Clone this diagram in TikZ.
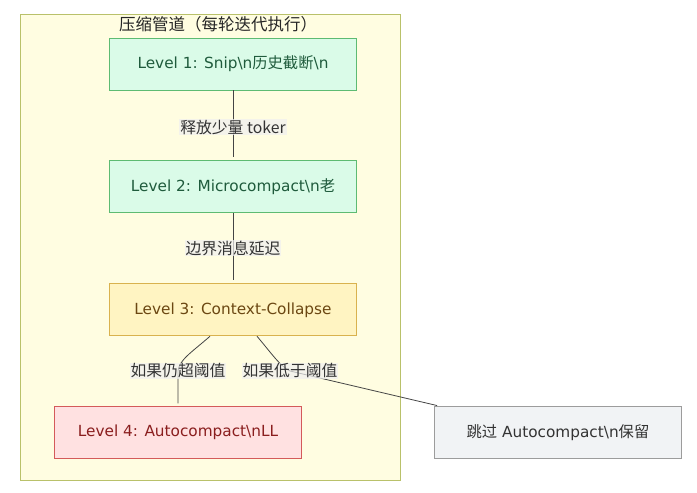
\documentclass[tikz,border=0pt]{standalone}
\usepackage{fontspec}
\setmainfont{DejaVu Sans}
\newfontfamily\cjk{Noto Sans CJK SC}
\usetikzlibrary{positioning}

\definecolor{groupfill}{HTML}{FFFDE1}
\definecolor{groupline}{HTML}{B9C16A}
\definecolor{greenfill}{HTML}{DAFBE8}
\definecolor{greenline}{HTML}{5DBB72}
\definecolor{greentext}{HTML}{1F5B3C}
\definecolor{yellowfill}{HTML}{FFF4C2}
\definecolor{yellowline}{HTML}{D9B24E}
\definecolor{yellowtext}{HTML}{6B4712}
\definecolor{redfill}{HTML}{FFE1E1}
\definecolor{redline}{HTML}{D45A5A}
\definecolor{redtext}{HTML}{8A1E1E}
\definecolor{grayfill}{HTML}{F1F3F5}
\definecolor{grayline}{HTML}{9C9C9C}
\definecolor{graytext}{HTML}{333333}
\definecolor{edgeline}{HTML}{444444}

\begin{document}
\begin{tikzpicture}[
    x=1pt, y=-1pt,
    node distance=70pt and 0pt,
    level/.style={draw, line width=0.9pt, minimum width=247pt, minimum height=52pt,
      font=\fontsize{15.3}{18}\selectfont},
    green/.style={level, fill=greenfill, draw=greenline, text=greentext},
    yellow/.style={level, fill=yellowfill, draw=yellowline, text=yellowtext},
    red/.style={level, fill=redfill, draw=redline, text=redtext},
    gray/.style={level, fill=grayfill, draw=grayline, text=graytext},
    edge/.style={draw=edgeline, line width=0.8pt, shorten >=3pt},
    lbl/.style={fill=gray!12, fill opacity=0.7, text opacity=1, inner sep=1pt,
      text=black!80, font=\cjk\fontsize{15.8}{18}\selectfont}
]
\useasboundingbox (0,0) rectangle (697,493);
\draw[fill=groupfill, draw=groupline, line width=0.8pt] (20,14) rectangle (400,480);
\node[font=\cjk\fontsize{16.5}{18}\selectfont, text=black!85] (title) at (218,24) {压缩管道（每轮迭代执行）};

\node[green] (snip) at (233,64) {Level 1: Snip\textbackslash n{\cjk 历史截断}\textbackslash n};
\node[green, below=of snip] (micro) {Level 2: Microcompact\textbackslash n{\cjk 老}};
\node[yellow, below=of micro] (collapse) {Level 3: Context-Collapse};
\node[red, below=of collapse, xshift=-55pt] (auto) {Level 4: Autocompact\textbackslash nLL};
\node[gray, below=of collapse, xshift=325pt] (skip) {{\cjk 跳过} Autocompact\textbackslash n{\cjk 保留}};

% label spots on the connectors
\coordinate (over) at (178,371);
\coordinate (under) at (290,371);

% connectors
\draw[edge] (snip) -- (micro);
\draw[edge] (micro) -- (collapse);
\draw[edge] ([xshift=-23pt]collapse.south) .. controls (192,352) and (179,360) .. (over) -- (auto);
\draw[edge] ([xshift=24pt]collapse.south) .. controls (272,354) and (280,366) .. (under) -- ([xshift=6pt]skip.north west);

% labels
\node[lbl] (l1) at (233,127) {释放少量 toker};
\node[lbl] (l2) at (233,248) {边界消息延迟};
\node[lbl] (l3) at (over) {如果仍超阈值};
\node[lbl] (l4) at (under) {如果低于阈值};
\end{tikzpicture}
\end{document}
